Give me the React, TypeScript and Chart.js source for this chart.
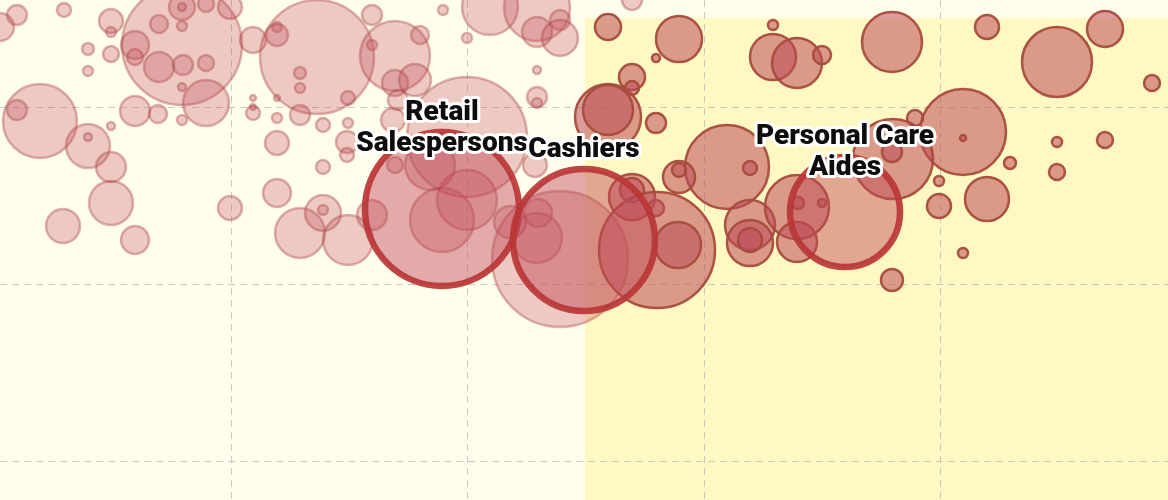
import { useEffect, useRef } from 'react';
import { Chart, registerables } from 'chart.js';

Chart.register(...registerables);

// Axis layout (data units)
const X_MIN = 0;
const X_MAX = 116.8;
const Y_MIN = 0;
const Y_MAX = 50;
const X_GRID = [23.1, 46.7, 70.4, 94.0];
const Y_GRID = [10.7, 28.4, 46.1];

// Highlighted quadrant starts here
const REGION_X0 = 58.5;
const REGION_Y0 = 1.8;

// Occupations outside the highlighted quadrant: [x, y, radius]
const OTHER_JOBS: [number, number, number][] = [
  [0, 2.7, 14], [1.7, 1.5, 10], [6.4, 1.0, 7], [11.1, 2.1, 12], [11.1, 3.2, 5],
  [18.2, 4.5, 60], [18.2, 0.7, 13], [18.2, 0.7, 4], [20.6, 0.4, 8], [23.0, 0.7, 12],
  [15.9, 2.4, 9], [18.2, 2.6, 5], [13.5, 4.5, 14], [13.5, 5.7, 8], [15.9, 6.7, 15],
  [18.3, 6.5, 10], [20.6, 6.3, 8], [18.2, 8.7, 4], [25.3, 4.0, 13], [27.7, 2.7, 5],
  [27.7, 3.5, 11], [31.7, 5.7, 57], [8.8, 4.9, 6], [11.1, 5.4, 8], [8.8, 7.1, 5],
  [4.0, 12.1, 37], [1.7, 11.0, 10], [8.8, 14.6, 22], [8.8, 13.7, 4], [11.1, 12.6, 4],
  [13.5, 11.1, 15], [15.8, 11.4, 9], [18.2, 12.0, 5], [20.6, 10.3, 23], [25.3, 9.8, 3],
  [25.3, 10.7, 3], [25.3, 11.3, 7], [27.7, 9.8, 3], [27.7, 11.8, 5], [30.0, 11.5, 10],
  [11.1, 16.7, 15], [27.7, 14.3, 12], [11.1, 20.3, 22], [6.3, 22.6, 17], [13.5, 24.0, 14],
  [23.0, 20.8, 12], [27.7, 19.3, 14], [30.0, 23.3, 25], [37.2, 1.5, 10], [37.2, 4.5, 5],
  [39.5, 5.6, 35], [42.0, 3.5, 9], [44.3, 1.0, 5], [46.7, 3.8, 5], [49.0, 0.7, 28],
  [53.7, 0.8, 33], [53.7, 3.2, 15], [56.0, 2.0, 10], [56.0, 3.8, 18], [53.7, 7.0, 4],
  [30.0, 7.3, 6], [30.0, 8.8, 5], [34.8, 9.8, 7], [32.3, 12.5, 7], [34.8, 12.3, 5],
  [34.7, 14.2, 11], [34.7, 15.5, 7], [32.3, 16.7, 7], [46.7, 13.7, 60], [53.7, 9.7, 10],
  [53.7, 10.3, 5], [53.5, 16.5, 12], [46.7, 20.0, 30], [44.2, 22.0, 32], [37.2, 21.5, 15],
  [32.3, 21.3, 18], [32.3, 21.0, 5], [34.8, 24.0, 25], [53.8, 21.3, 14], [53.7, 23.8, 25],
  [51.0, 22.2, 16], [56.0, 25.9, 68], [63.2, 0, 10], [39.5, 8.3, 13], [39.8, 10.0, 10],
  [41.5, 8.0, 16], [39.3, 12.0, 12], [43.0, 16.5, 25], [39.5, 16.5, 8],
];

// Occupations inside the highlighted quadrant: [x, y, radius]
const QUADRANT_JOBS: [number, number, number][] = [
  [60.8, 2.7, 13], [67.9, 3.9, 23], [65.6, 5.8, 4], [63.2, 7.7, 13], [63.2, 8.8, 7],
  [60.8, 11.7, 33], [60.8, 11.0, 25], [65.6, 12.3, 10], [77.3, 2.5, 5], [77.3, 5.7, 23],
  [79.7, 6.3, 25], [82.2, 5.5, 9], [72.7, 16.7, 42], [75.0, 16.8, 7], [67.9, 17.7, 16],
  [67.9, 17.0, 7], [63.2, 19.7, 23], [63.2, 19.0, 12], [65.6, 20.8, 8], [65.7, 25.0, 58],
  [67.8, 24.5, 23], [75.0, 22.5, 25], [75.0, 24.3, 23], [75.0, 24.0, 12], [79.7, 20.7, 32],
  [79.7, 24.2, 20], [79.8, 20.3, 6], [82.2, 20.3, 4], [89.2, 4.2, 30], [98.7, 2.7, 12],
  [105.7, 6.2, 35], [110.5, 2.9, 18], [115.2, 8.3, 8], [96.3, 13.2, 43], [96.3, 13.8, 3],
  [89.3, 15.9, 40], [91.5, 11.8, 8], [89.2, 15.2, 10], [101.0, 16.3, 6], [105.7, 14.2, 5],
  [110.5, 14.0, 8], [105.7, 17.2, 8], [93.9, 18.1, 5], [93.9, 20.6, 12], [98.7, 19.9, 22],
  [96.3, 25.3, 5], [89.2, 28.0, 11],
];

// Labelled occupations
const HIGHLIGHT_NAMES = ['Retail Salespersons', 'Cashiers', 'Personal Care Aides'];
const HIGHLIGHT_X = [44.2, 58.4, 84.5];
const HIGHLIGHT_Y = [20.9, 24.0, 21.2];
const HIGHLIGHT_R = [77, 71, 55];
const LABEL_LINES = [['Retail', 'Salespersons'], ['Cashiers'], ['Personal Care', 'Aides']];
const LABEL_X = [44.2, 58.4, 84.5];
const LABEL_Y = [11.3, 15.0, 13.7];

const toPoints = (rows: [number, number, number][]) => rows.map(([x, y, r]) => ({ x, y, r }));

export default function App() {
  const ref = useRef<HTMLCanvasElement | null>(null);

  useEffect(() => {
    if (!ref.current) return;

    const backgroundPlugin = {
      id: 'bgRegion',
      beforeDraw(chart: any) {
        const { ctx, chartArea, scales } = chart;
        ctx.save();
        ctx.fillStyle = '#fffeec';
        ctx.fillRect(0, 0, chart.width, chart.height);
        const x0 = scales.x.getPixelForValue(REGION_X0);
        const y0 = scales.y.getPixelForValue(REGION_Y0);
        ctx.fillStyle = '#fff8c2';
        ctx.fillRect(x0, y0, chartArea.right - x0, chartArea.bottom - y0);
        ctx.restore();
      },
    };

    const labelPlugin = {
      id: 'jobLabels',
      afterDatasetsDraw(chart: any) {
        const { ctx, scales } = chart;
        ctx.save();
        ctx.font = '900 28px Roboto, "DejaVu Sans", sans-serif';
        ctx.textAlign = 'center';
        ctx.textBaseline = 'middle';
        ctx.lineJoin = 'round';
        LABEL_LINES.forEach((lines, i) => {
          const px = scales.x.getPixelForValue(LABEL_X[i]);
          const py = scales.y.getPixelForValue(LABEL_Y[i]);
          lines.forEach((line, j) => {
            const ly = py + j * 31;
            ctx.strokeStyle = '#ffffff';
            ctx.lineWidth = 6;
            ctx.strokeText(line, px, ly);
            ctx.fillStyle = '#0d0d0d';
            ctx.fillText(line, px, ly);
          });
        });
        ctx.restore();
      },
    };

    const gridOpts = {
      color: 'rgba(185,185,185,0.75)',
      lineWidth: 1,
      drawTicks: false,
    };

    const chart = new Chart(ref.current, {
      type: 'bubble',
      data: {
        datasets: [
          {
            label: 'Highlighted',
            data: HIGHLIGHT_NAMES.map((_, i) => ({ x: HIGHLIGHT_X[i], y: HIGHLIGHT_Y[i], r: HIGHLIGHT_R[i] })),
            backgroundColor: 'rgba(192,72,88,0.46)',
            borderColor: 'rgba(186,54,54,0.92)',
            borderWidth: 6.5,
            order: 0,
          },
          {
            label: 'Quadrant',
            data: toPoints(QUADRANT_JOBS),
            backgroundColor: 'rgba(190,75,90,0.55)',
            borderColor: 'rgba(166,76,60,0.95)',
            borderWidth: 2.5,
            order: 1,
          },
          {
            label: 'Other',
            data: toPoints(OTHER_JOBS),
            backgroundColor: 'rgba(195,78,95,0.3)',
            borderColor: 'rgba(170,70,72,0.4)',
            borderWidth: 2.5,
            order: 2,
          },
        ],
      },
      options: {
        animation: false,
        responsive: true,
        maintainAspectRatio: false,
        events: [],
        layout: { padding: 0, autoPadding: false },
        plugins: {
          legend: { display: false },
          tooltip: { enabled: false },
        },
        scales: {
          x: {
            type: 'linear',
            min: X_MIN,
            max: X_MAX,
            ticks: { display: false },
            afterBuildTicks: (s: any) => {
              s.ticks = X_GRID.map((v) => ({ value: v }));
            },
            grid: gridOpts,
            border: { display: false, dash: [7, 5] },
          },
          y: {
            type: 'linear',
            reverse: true,
            min: Y_MIN,
            max: Y_MAX,
            ticks: { display: false },
            afterBuildTicks: (s: any) => {
              s.ticks = Y_GRID.map((v) => ({ value: v }));
            },
            grid: gridOpts,
            border: { display: false, dash: [7, 5] },
          },
        },
      },
      plugins: [backgroundPlugin, labelPlugin],
    });

    return () => chart.destroy();
  }, []);

  return (
    <div style={{ position: 'absolute', left: 0, top: 0, width: 1168, height: 500 }}>
      <canvas ref={ref} />
    </div>
  );
}
